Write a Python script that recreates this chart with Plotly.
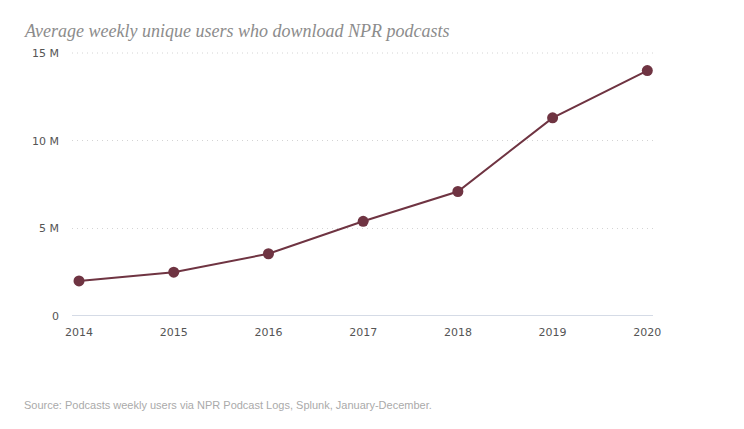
import plotly.graph_objects as go

years = [2014, 2015, 2016, 2017, 2018, 2019, 2020]
users = [2.0e6, 2.5e6, 3.55e6, 5.4e6, 7.1e6, 11.3e6, 14.0e6]

y_tickvals = [0, 5e6, 10e6, 15e6]
y_ticktext = ["0", "5 M", "10 M", "15 M"]
x_ticks = years

title_text = "Average weekly unique users who download NPR podcasts"
source_text = "Source: Podcasts weekly users via NPR Podcast Logs, Splunk, January-December."

color = "#6f3442"
grid_color = "#d4d4d4"
grid_dash = "1px,4px"

# page body has an 8px margin; work in page pixels and shift
OFF = 8
W, H = 744 - OFF, 429 - OFF
L, R, T, B = 72 - OFF, 653 - OFF, 52 - OFF, 316 - OFF

fig = go.Figure()
fig.add_trace(go.Scatter(
    x=years, y=users, mode="lines+markers",
    line=dict(color=color, width=2),
    marker=dict(color=color, size=11),
    hoverinfo="x+y",
))

ymax = 15e6 * (316 - 52) / (316 - 53)

fig.update_layout(
    width=W, height=H,
    margin=dict(l=L, r=W - R, t=T, b=H - B, pad=0),
    plot_bgcolor="white", paper_bgcolor="white",
    showlegend=False,
    xaxis=dict(
        range=[2013.926, 2020.06],
        tickvals=x_ticks, ticktext=[str(v) for v in x_ticks],
        showgrid=False, zeroline=False, showline=False,
        ticks="", tickfont=dict(family="DejaVu Sans", size=11, color="#555"),
        ticklabelstandoff=8,
        fixedrange=True,
    ),
    yaxis=dict(
        range=[0, ymax],
        tickvals=y_tickvals, ticktext=y_ticktext,
        showgrid=True, gridcolor=grid_color, griddash=grid_dash, gridwidth=1,
        zeroline=False, showline=False, ticks="",
        tickfont=dict(family="DejaVu Sans", size=11, color="#555"),
        ticklabelstandoff=12,
        fixedrange=True,
    ),
    shapes=[
        dict(type="line", xref="paper", yref="y", x0=0, x1=1, y0=0, y1=0,
             line=dict(color="#d5dbe6", width=2), layer="below"),
        dict(type="line", xref="paper", yref="y", x0=0, x1=1,
             y0=y_tickvals[-1], y1=y_tickvals[-1],
             line=dict(color=grid_color, width=1, dash=grid_dash), layer="below"),
    ],
)

pw = R - L
ph = B - T


def px(x):
    return (x - OFF - L) / pw


def py(y):
    return (B - (y - OFF)) / ph


fig.add_annotation(text=title_text, x=px(22), y=py(31), xref="paper", yref="paper",
                   showarrow=False, xanchor="left", yanchor="middle",
                   font=dict(family="Liberation Serif", size=18, color="#8c8c8c", style="italic"))
fig.add_annotation(text=source_text, x=px(22), y=py(405), xref="paper", yref="paper",
                   showarrow=False, xanchor="left", yanchor="middle",
                   font=dict(family="Liberation Sans", size=11, color="#aaaaaa"))

fig.write_html("out.html")
